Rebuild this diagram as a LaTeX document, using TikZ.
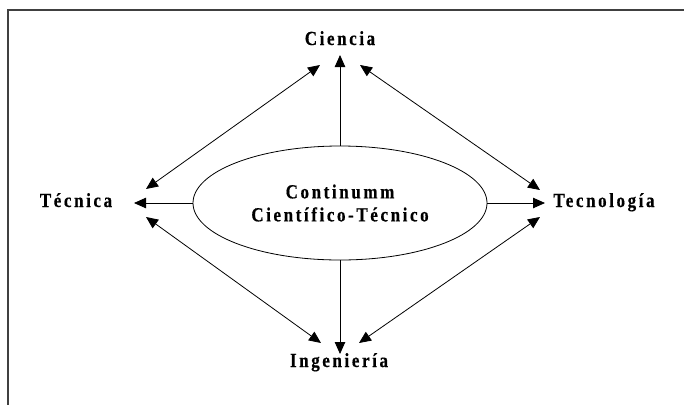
\documentclass[tikz,border=0pt]{standalone}
\usepackage{fontspec}
\setmainfont{Liberation Serif}
\newfontfamily\lblfont[LetterSpace=13,FakeStretch=0.85,FakeBold=0.5]{Liberation Serif}
\usetikzlibrary{arrows.meta,shapes.geometric}
\begin{document}
\begin{tikzpicture}[x=1pt,y=-1pt,
  lbl/.style={font=\lblfont\bfseries\fontsize{20}{23}\selectfont, inner sep=0pt},
  arr/.style={-{Triangle[length=12pt,width=10.5pt]}, line width=0.8pt},
  darr/.style={{Triangle[length=12pt,width=10.5pt]}-{Triangle[length=12pt,width=10.5pt]}, line width=0.8pt},
  frame/.style={line width=2pt, draw=black!75}]
\useasboundingbox (0,0) rectangle (684,405);
% frame
\coordinate (fr) at (684,9.5);
\coordinate (fc) at (8,9.5);
\coordinate (fb) at (8,405);
\draw[frame] (fr) -- (fc) -- (fb);
% central ellipse
\node[ellipse, draw, line width=0.8pt, minimum width=294pt, minimum height=114pt, inner sep=0pt,
      font=\lblfont\bfseries\fontsize{20}{23}\selectfont, align=center] (c) at (340,203)
      {Continumm\\Científico-Técnico};
% labels
\node[lbl, anchor=base] (ci) at (340,45) {Ciencia};
\node[lbl, anchor=base] (te) at (76,207) {Técnica};
\node[lbl, anchor=base] (tg) at (604,207) {Tecnología};
\node[lbl, anchor=base] (in) at (339,367) {Ingeniería};
% arrow tips
\coordinate (ct) at (340,55);
\coordinate (cl) at (134,203);
\coordinate (cr) at (545,203);
\coordinate (cb) at (340,354);
\draw[arr] (c.north) -- (ct);
\draw[arr] (c.west) -- (cl);
\draw[arr] (c.east) -- (cr);
\draw[arr] (c.south) -- (cb);
% diagonal tips
\coordinate (d1a) at (320,65);
\coordinate (d1b) at (146,189);
\coordinate (d2a) at (360,65);
\coordinate (d2b) at (540,190);
\coordinate (d3a) at (146,217);
\coordinate (d3b) at (321,343);
\coordinate (d4a) at (540,217);
\coordinate (d4b) at (359,343);
\draw[darr] (d1a) -- (d1b);
\draw[darr] (d2a) -- (d2b);
\draw[darr] (d3a) -- (d3b);
\draw[darr] (d4a) -- (d4b);
\end{tikzpicture}
\end{document}
